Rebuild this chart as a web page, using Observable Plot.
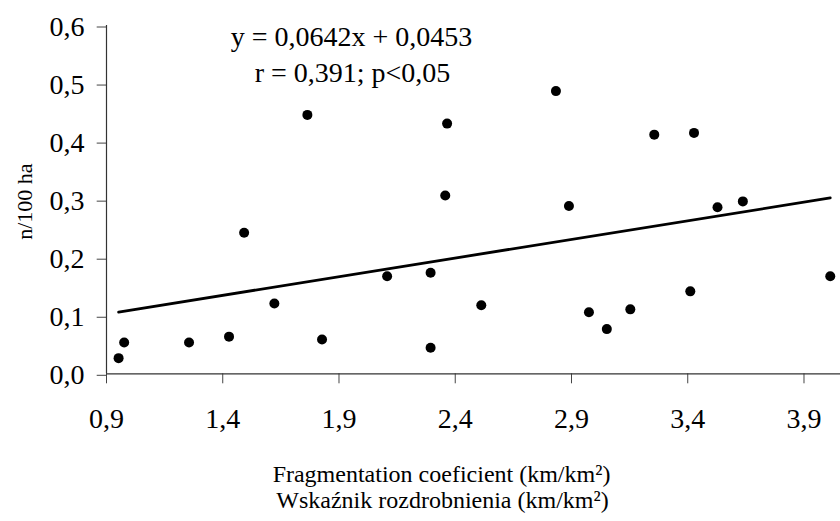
<!DOCTYPE html>
<html>
<head>
<meta charset="utf-8">
<script src="https://cdn.jsdelivr.net/npm/d3@7"></script>
<script src="https://cdn.jsdelivr.net/npm/@observablehq/plot@0.6"></script>
<style>
  html, body { margin: 0; padding: 0; background: #fff; }
  #chart svg { display: block; }
</style>
</head>
<body>
<div id="chart"></div>
<script>
// Fragmentation coefficient (km/km²)
const fragmentation = [0.952, 0.976, 1.255, 1.427, 1.492, 1.622, 1.764, 1.827, 2.107, 2.294, 2.294,
  2.357, 2.365, 2.512, 2.833, 2.889, 2.975, 3.052, 3.153, 3.256, 3.411, 3.427, 3.528, 3.637, 4.013];
// Density n/100 ha
const density = [0.027, 0.054, 0.054, 0.064, 0.243, 0.121, 0.446, 0.059, 0.168, 0.174, 0.045,
  0.307, 0.431, 0.118, 0.487, 0.289, 0.106, 0.077, 0.111, 0.412, 0.142, 0.415, 0.287, 0.297, 0.168];

const xTicks = [0.9, 1.4, 1.9, 2.4, 2.9, 3.4, 3.9];
const yTicks = [0.0, 0.1, 0.2, 0.3, 0.4, 0.5, 0.6];

const slope = 0.0642;
const intercept = 0.0453;
const equationLines = ["y = 0,0642x + 0,0453", "r = 0,391; p<0,05"];
const yTitle = "n/100 ha";
const xTitles = ["Fragmentation coeficient (km/km\u00B2)", "Wska\u017Anik rozdrobnienia (km/km\u00B2)"];

const points = fragmentation.map((x, i) => ({x, y: density[i]}));
const xExtent = d3.extent(fragmentation);
const trend = xExtent.map(x => ({x, y: slope * x + intercept}));

const fmt = d => d.toFixed(1).replace(".", ",");
const FONT = "Liberation Serif, Times New Roman, serif";

const W = 840, H = 521;
const mTop = 25, mLeft = 106, mBottom = H - 373.3, mRight = 0;

const chart = Plot.plot({
  width: W,
  height: H,
  marginTop: mTop,
  marginLeft: mLeft,
  marginBottom: mBottom,
  marginRight: mRight,
  style: {fontFamily: FONT, color: "#000", background: "#fff", overflow: "visible"},
  x: {domain: [0.9, 4.057]},
  y: {domain: [0, 0.6]},
  marks: [
    Plot.axisX({ticks: xTicks, tickFormat: fmt, tickSize: 10, tickPadding: 24, fontSize: 28, label: null, stroke: "#444"}),
    Plot.axisY({ticks: yTicks, tickFormat: fmt, tickSize: 9.3, tickPadding: 12.7, fontSize: 28, label: null, dy: 1.5, stroke: "#444"}),
    Plot.ruleY([0], {stroke: "#333", strokeWidth: 1.2}),
    Plot.ruleX([0.9], {stroke: "#333", strokeWidth: 1.2}),
    Plot.line(trend, {x: "x", y: "y", stroke: "#000", strokeWidth: 2.8}),
    Plot.dot(points, {x: "x", y: "y", r: 5, fill: "#000", stroke: "none"}),
    Plot.text([equationLines[0]], {frameAnchor: "top-left", dx: 245, dy: 20.5, textAnchor: "middle", lineAnchor: "bottom", fontSize: 28, fill: "#000"}),
    Plot.text([equationLines[1]], {frameAnchor: "top-left", dx: 246, dy: 56, textAnchor: "middle", lineAnchor: "bottom", fontSize: 28, fill: "#000"}),
    Plot.text([yTitle], {frameAnchor: "left", dx: -82, dy: 2, rotate: -90, textAnchor: "middle", lineAnchor: "middle", fontSize: 22, fill: "#000"}),
    Plot.text([xTitles[0]], {frameAnchor: "bottom", dx: -32, dy: 108.5, textAnchor: "middle", lineAnchor: "bottom", fontSize: 24, fill: "#000"}),
    Plot.text([xTitles[1]], {frameAnchor: "bottom", dx: -31, dy: 134, textAnchor: "middle", lineAnchor: "bottom", fontSize: 24, fill: "#000"})
  ]
});
document.getElementById("chart").appendChild(chart);
</script>
</body>
</html>
